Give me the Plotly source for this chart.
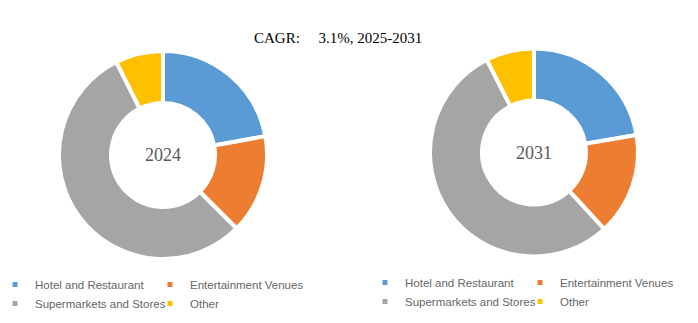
import plotly.graph_objects as go

W, H = 698, 323

categories = ["Hotel and Restaurant", "Entertainment Venues", "Supermarkets and Stores", "Other"]
share_2024 = [22.1, 15.4, 55.1, 7.4]
share_2031 = [22.3, 15.9, 54.3, 7.5]
colors = ["#5B9BD5", "#ED7D31", "#A5A5A5", "#FFC000"]
years = ["2024", "2031"]
cagr_label = "CAGR:"
cagr_text = "3.1%, 2025-2031"

# legend column for each category -> 2x2 grid
legend_column = [0, 1, 0, 1]

def px_x(x):
    return x / W

def px_y(y):
    return 1 - y / H

fig = go.Figure()

pie_centers = [(163, 155), (534, 152.5)]
R = 104
for vals, (cx, cy) in zip([share_2024, share_2031], pie_centers):
    fig.add_trace(go.Pie(
        labels=categories, values=vals, sort=False, direction="clockwise", rotation=0,
        hole=0.5, textinfo="none", hoverinfo="label+percent",
        marker=dict(colors=colors, line=dict(color="white", width=4)),
        domain=dict(x=[px_x(cx - R), px_x(cx + R)], y=[px_y(cy + R), px_y(cy - R)]),
        showlegend=False,
    ))

# legend entries (two legends, one under each donut)
col_widths = [125, 128]
for leg, prefix in [("legend", "L"), ("legend2", "R")]:
    for i in [0, 2, 1, 3]:
        fig.add_trace(go.Scatter(
            x=[None], y=[None], mode="markers",
            marker=dict(symbol="square", size=5, color=colors[i]),
            name=categories[i], legend=leg,
            legendgroup=f"{prefix}{legend_column[i]}",
            legendwidth=col_widths[legend_column[i]], hoverinfo="skip",
        ))

leg_common = dict(
    orientation="h", traceorder="grouped", xanchor="left", yanchor="top",
    font=dict(family="Liberation Sans", size=11.5, color="#666666"),
    bgcolor="rgba(0,0,0,0)", indentation=-15, itemwidth=30, tracegroupgap=0,
)

fig.update_layout(
    width=W, height=H,
    margin=dict(l=0, r=0, t=0, b=0, autoexpand=False),
    paper_bgcolor="white", plot_bgcolor="white",
    xaxis=dict(visible=False), yaxis=dict(visible=False),
    legend=dict(x=px_x(10), y=px_y(270), **leg_common),
    legend2=dict(x=px_x(380), y=px_y(268), **leg_common),
    annotations=[
        dict(x=px_x(252), y=px_y(38), xref="paper", yref="paper", xanchor="left", yanchor="middle",
             text=cagr_label + "\u00a0" * 5 + cagr_text, showarrow=False,
             font=dict(family="Liberation Serif", size=15, color="black")),
    ] + [
        dict(x=px_x(cx), y=px_y(cy), xref="paper", yref="paper", xanchor="center", yanchor="middle",
             text=yr, showarrow=False,
             font=dict(family="Liberation Serif", size=18, color="#595959"))
        for yr, (cx, cy) in zip(years, pie_centers)
    ],
)

fig.write_html("out.html")
